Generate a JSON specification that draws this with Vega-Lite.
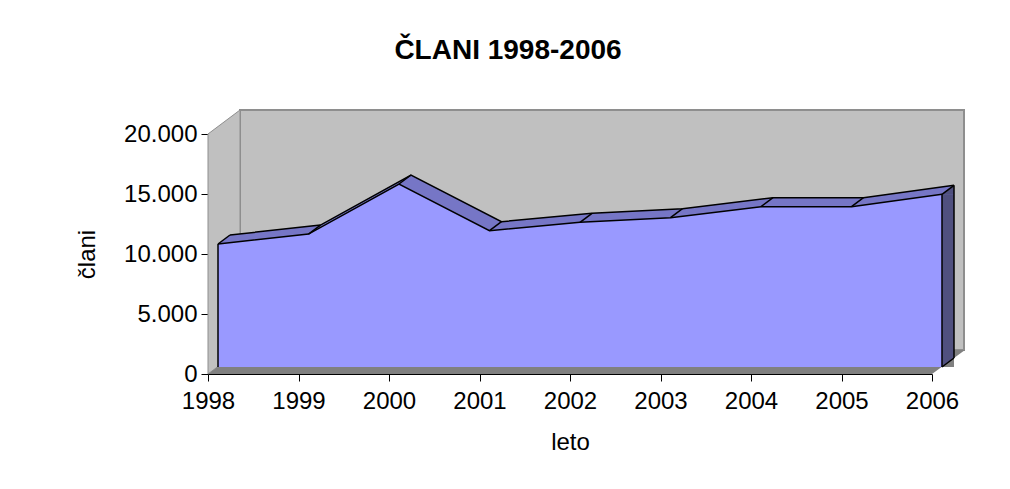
{
  "$schema": "https://vega.github.io/schema/vega-lite/v6.json",
  "width": 724,
  "height": 240,
  "autosize": {"type": "none"},
  "padding": {"left": 208, "top": 134, "right": 78, "bottom": 115},
  "background": "white",
  "config": {
    "view": {"stroke": null},
    "font": "Liberation Sans",
    "axis": {"grid": false, "domainColor": "black", "tickColor": "black", "tickSize": 7, "labelFont": "Liberation Sans", "labelFontSize": 24, "labelColor": "black", "labelFlush": false, "labelOverlap": false, "titleFont": "Liberation Sans", "titleFontSize": 24, "titleFontWeight": "normal", "titleColor": "black", "zindex": 1},
    "axisX": {"labelPadding": 8, "titlePadding": 17},
    "axisY": {"labelPadding": 4, "titlePadding": 24}
  },
  "title": {"text": "ČLANI 1998-2006", "font": "Liberation Sans", "fontSize": 28, "fontWeight": "bold", "color": "black", "anchor": "middle", "frame": "group", "dx": -62, "offset": 43},
  "data": {"values": [
    {"year": 1998, "value": 10250},
    {"year": 1999, "value": 11080},
    {"year": 2000, "value": 15250},
    {"year": 2001, "value": 11360},
    {"year": 2002, "value": 12060},
    {"year": 2003, "value": 12440},
    {"year": 2004, "value": 13360},
    {"year": 2005, "value": 13360},
    {"year": 2006, "value": 14390}
  ]},
  "encoding": {
    "x": {"field": "year", "type": "quantitative", "title": "leto", "scale": {"domain": [1998, 2006], "nice": false, "zero": false},
      "axis": {"values": [1998, 1999, 2000, 2001, 2002, 2003, 2004, 2005, 2006], "format": "d"}},
    "y": {"field": "value", "type": "quantitative", "title": "člani", "scale": {"domain": [0, 20000], "nice": false},
      "axis": {"values": [0, 5000, 10000, 15000, 20000], "labelExpr": "replace(format(datum.value, ','), ',', '.')"}}
  },
  "layer": [
    {
      "transform": [{"filter": "datum.year == 1998"}],
      "mark": {"type": "rect", "fill": "#C0C0C0", "stroke": "#8E8E8E", "strokeWidth": 2, "xOffset": 32, "x2Offset": 32, "yOffset": -24, "y2Offset": -24},
      "encoding": {"x2": {"datum": 2006}, "y": {"datum": 20000, "type": "quantitative"}, "y2": {"datum": 0}}
    },
    {
      "transform": [{"filter": "datum.year == 1998"}],
      "mark": {"type": "point", "shape": "M0,0 L0,-240 L32,-264 L32,-24 Z", "size": 4, "filled": true, "fill": "#C0C0C0", "stroke": "#8E8E8E", "strokeWidth": 1, "opacity": 1},
      "encoding": {"y": {"datum": 0, "type": "quantitative"}}
    },
    {
      "transform": [{"filter": "datum.year == 1998"}],
      "mark": {"type": "point", "shape": "M0,0 L32,-24 L757,-24 L724,0 Z", "size": 4, "filled": true, "fill": "#808080", "strokeWidth": 0, "opacity": 1},
      "encoding": {"y": {"datum": 0, "type": "quantitative"}}
    },
    {
      "mark": {"type": "area", "color": "#7676C6", "opacity": 1, "xOffset": 22, "yOffset": -16, "y2Offset": -16},
      "encoding": {"y2": {"datum": 0}}
    },
    {
      "transform": [{"filter": "datum.year == 1998"}],
      "mark": {"type": "point", "shape": "M10,-7 L22,-16 L22,-7 Z", "size": 4, "filled": true, "fill": "#7676C6", "strokeWidth": 0, "opacity": 1}
    },
    {
      "transform": [{"filter": "datum.year == 2006"}],
      "mark": {"type": "rule", "color": "#50507F", "strokeWidth": 12, "xOffset": 16, "yOffset": -7, "y2Offset": -7},
      "encoding": {"y2": {"datum": 0}}
    },
    {
      "transform": [{"filter": "datum.year == 2006"}],
      "mark": {"type": "point", "shape": "M10,-7 L22,-16 L22,-7 Z", "size": 4, "filled": true, "fill": "#50507F", "strokeWidth": 0, "opacity": 1}
    },
    {
      "transform": [{"filter": "datum.year == 2006"}],
      "mark": {"type": "point", "shape": "M10,-7 L22,-16 L22,-7 Z", "size": 4, "filled": true, "fill": "#808080", "strokeWidth": 0, "opacity": 1},
      "encoding": {"y": {"datum": 0, "type": "quantitative"}}
    },
    {
      "mark": {"type": "area", "color": "#9999FF", "opacity": 1, "xOffset": 10, "yOffset": -7, "y2Offset": -7},
      "encoding": {"y2": {"datum": 0}}
    },
    {
      "mark": {"type": "line", "color": "black", "strokeWidth": 1.5, "xOffset": 10, "yOffset": -7}
    },
    {
      "mark": {"type": "line", "color": "black", "strokeWidth": 1.5, "xOffset": 22, "yOffset": -16}
    },
    {
      "mark": {"type": "rule", "color": "black", "strokeWidth": 1.5, "xOffset": 10, "yOffset": -7, "x2Offset": 22, "y2Offset": -16},
      "encoding": {"x2": {"field": "year"}, "y2": {"field": "value"}}
    },
    {
      "transform": [{"filter": "datum.year == 1998 || datum.year == 2006"}],
      "mark": {"type": "rule", "color": "black", "strokeWidth": 1.5, "xOffset": 10, "yOffset": -7, "y2Offset": -7},
      "encoding": {"y2": {"datum": 0}}
    },
    {
      "transform": [{"filter": "datum.year == 2006"}],
      "mark": {"type": "rule", "color": "black", "strokeWidth": 1.5, "xOffset": 22, "yOffset": -16, "y2Offset": -16},
      "encoding": {"y2": {"datum": 0}}
    },
    {
      "transform": [{"filter": "datum.year == 2006"}],
      "mark": {"type": "rule", "color": "black", "strokeWidth": 1.5, "xOffset": 10, "yOffset": -7, "x2Offset": 22, "y2Offset": -16},
      "encoding": {"y": {"datum": 0, "type": "quantitative"}, "x2": {"field": "year"}, "y2": {"datum": 0}}
    }
  ]
}
